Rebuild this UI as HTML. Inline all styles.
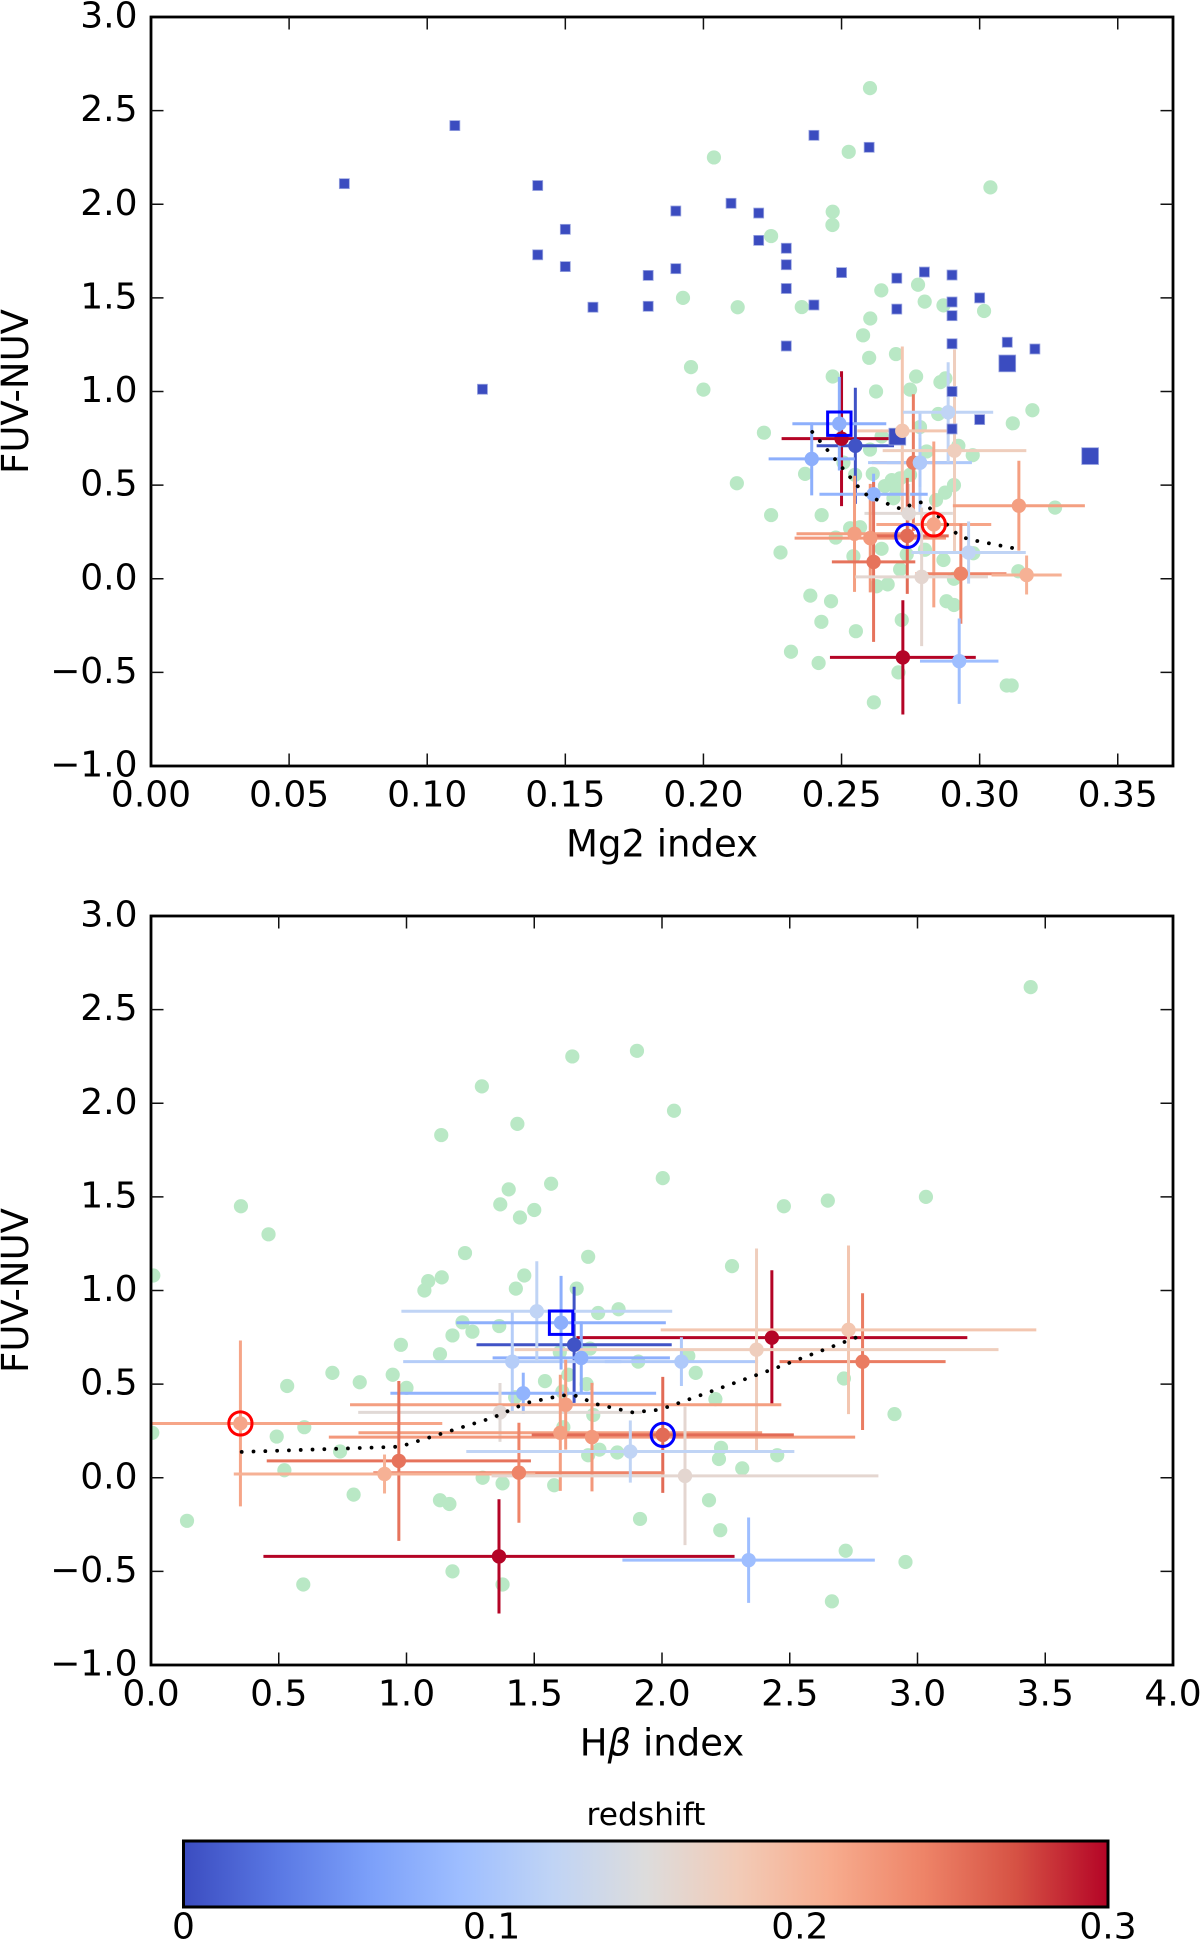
<!DOCTYPE html>
<html>
<head>
<meta charset="utf-8">
<title>FUV-NUV versus Mg2 and H-beta index</title>
<style>
html,body{margin:0;padding:0;background:#fff;width:1200px;height:1941px;overflow:hidden}
svg{display:block}
text{font-family:"DejaVu Sans","Liberation Sans",sans-serif;fill:#000}
</style>
</head>
<body>
<svg id="figure" xmlns="http://www.w3.org/2000/svg" width="1200" height="1941" viewBox="0 0 1200 1941">
  <defs>
    <clipPath id="clip-top"><rect x="151" y="17" width="1022" height="749"></rect></clipPath>
    <clipPath id="clip-bottom"><rect x="151" y="916" width="1022" height="749"></rect></clipPath>
    <linearGradient id="coolwarm" x1="0" x2="1" y1="0" y2="0"></linearGradient>
  </defs>
  <g id="panel-mg2"></g>
  <g id="panel-hb"></g>
  <g id="colorbar"></g>
</svg>
<script>
// Axis ticks
const fuvTicks = [-1, -0.5, 0, 0.5, 1, 1.5, 2, 2.5, 3];
const fuvTickLabels = ["\u22121.0", "\u22120.5", "0.0", "0.5", "1.0", "1.5", "2.0", "2.5", "3.0"];
const mg2Ticks = [0, 0.05, 0.1, 0.15, 0.2, 0.25, 0.3, 0.35];
const mg2TickLabels = ["0.00", "0.05", "0.10", "0.15", "0.20", "0.25", "0.30", "0.35"];
const hbTicks = [0, 0.5, 1, 1.5, 2, 2.5, 3, 3.5, 4];
const hbTickLabels = ["0.0", "0.5", "1.0", "1.5", "2.0", "2.5", "3.0", "3.5", "4.0"];
const redshiftTicks = [0, 0.1, 0.2, 0.3];
const redshiftTickLabels = ["0", "0.1", "0.2", "0.3"];
const coolwarmStops = ["#3b4cc0", "#5977e3", "#7b9ff9", "#9ebeff", "#c0d4f5", "#dddcdc", "#f2cbb7", "#f7ac8e", "#ee8468", "#d65244", "#b40426"];

// Green background sample, Mg2 panel
const greenMg2 = [.2603,.2526,.3039,.2468,.2467,.2644,.2777,.2801,.2869,.3016,.2356,.2604,.2578,.26,.2697,.2468,.277,.2748,.2858,.2876,.2625,.2038,.2245,.1926,.2124,.1955,.2,.3191,.312,.2219,.285,.2784,.2645,.2603,.2923,.2975,.2808,.2507,.2368,.2121,.2549,.2613,.2657,.2682,.2712,.2748,.27,.2688,.2907,.2875,.2842,.3273,.2245,.2428,.2531,.2567,.2479,.2279,.2543,.2645,.2736,.2802,.2869,.2977,.2712,.314,.2907,.2627,.2667,.2387,.2462,.288,.2907,.2427,.2718,.2552,.2317,.2417,.2706,.3098,.3116,.2617];
const greenMg2Fuv = [2.62,2.28,2.09,1.96,1.889,1.54,1.57,1.48,1.46,1.43,1.451,1.39,1.30,1.18,1.20,1.08,1.08,1.01,1.05,1.07,1.0,2.25,1.83,1.50,1.45,1.13,1.01,.90,.83,.78,.88,.81,.76,.69,.71,.66,.68,.62,.56,.51,.555,.56,.495,.527,.536,.555,.474,.43,.50,.46,.42,.38,.34,.34,.27,.275,.22,.14,.12,.16,.13,.155,.10,.136,.05,.04,0,-.04,-.03,-.09,-.12,-.12,-.14,-.23,-.22,-.28,-.39,-.45,-.5,-.57,-.57,-.66];

// Green background sample, H-beta panel
const greenHb = [3.443,1.902,2.047,2.003,2.477,2.649,3.033,1.649,1.295,1.434,1.136,1.566,1.40,1.367,1.50,.352,1.444,.46,1.229,1.711,.009,1.138,1.085,1.07,1.461,1.428,1.666,1.75,1.83,1.219,1.363,1.18,1.258,.978,1.131,.71,.817,.533,.946,1.0,1.542,1.60,1.718,1.633,1.705,1.425,1.61,1.731,1.614,.60,.005,.492,.74,1.755,1.711,1.825,.522,1.298,1.376,1.578,.793,1.131,1.168,.141,1.18,1.376,.596,2.274,1.907,2.103,2.132,2.712,2.209,2.91,2.231,2.223,2.451,2.314,2.184,1.914,2.228,2.719,2.953,2.665];
const greenHbFuv = [2.62,2.28,1.96,1.60,1.45,1.48,1.50,2.25,2.09,1.89,1.83,1.57,1.54,1.46,1.43,1.45,1.39,1.30,1.20,1.18,1.08,1.07,1.05,1.0,1.08,1.01,1.01,.88,.90,.83,.81,.76,.78,.71,.66,.56,.51,.49,.55,.48,.516,.67,.69,.55,.50,.43,.46,.335,.27,.27,.24,.22,.14,.15,.12,.135,.04,0,-.03,-.04,-.09,-.12,-.14,-.23,-.5,-.57,-.57,1.13,.62,.65,.56,.53,.42,.34,.16,.10,.12,.05,-.12,-.22,-.28,-.39,-.45,-.66];

// Blue squares, Mg2 panel
const squareMg2 = [.07,.11,.12,.14,.14,.15,.15,.16,.18,.18,.19,.19,.21,.22,.22,.23,.23,.23,.23,.24,.24,.25,.26,.27,.27,.28,.29,.29,.29,.29,.29,.29,.30,.30,.31,.32];
const squareFuv = [2.11,2.42,1.012,2.10,1.73,1.866,1.667,1.45,1.62,1.455,1.964,1.656,2.005,1.953,1.807,1.765,1.677,1.55,1.243,2.368,1.462,1.635,2.304,1.605,1.44,1.638,1.622,1.478,1.405,1.255,1.0,.8,1.5,.85,1.263,1.227];
const bigSquareMg2 = [.31,.34,.2702];
const bigSquareFuv = [1.15,.655,.759];

// Spectroscopic sample with error bars
const specName = ["b","c","d","eo","e1","e2","g","h","i","j","k","l","m","n","o","p","q","r","s","t","u","v","w","a"];
const specRedshift = [.3,.005,.075,.245,.11,.105,.185,.12,.175,.08,.155,.215,.22,.22,.225,.255,.25,.24,.205,.16,.12,.3,.09,.075];
const specMg2 = [.25,.255,.2392,.276,.2784,.2784,.272,.2886,.2909,.2616,.2743,.2834,.3142,.2547,.2604,.2738,.2616,.2932,.317,.279,.296,.2722,.2926,.2492];
const specMg2Err = [.0217,.014,.0156,.015,.012,.0188,.0163,.0163,.026,.0196,.016,.0208,.0239,.021,.0274,.015,.0151,.0165,.0127,.024,.0207,.0264,.0142,.017];
const specHb = [2.43,1.656,1.684,2.785,1.414,2.076,2.73,1.51,2.37,1.457,1.366,.35,1.623,1.602,1.726,2.003,.97,1.44,.914,2.09,1.876,1.362,2.339,1.605];
const specHbErr = [.765,.382,.347,.325,.427,.3,.735,.53,.947,.52,.555,.79,.844,.79,1.03,.513,.517,.57,.59,.757,.642,.922,.494,.41];
const specFuv = [.748,.71,.64,.62,.62,.62,.79,.889,.684,.451,.349,.29,.39,.24,.217,.229,.09,.027,.02,.01,.14,-.42,-.44,.828];
const specFuvErr = [.36,.31,.195,.365,.27,.13,.45,.267,.54,.11,.157,.443,.24,.31,.29,.31,.427,.267,.104,.37,.166,.305,.228,.25];

// Highlighted objects
const boxedMg2 = [.2492];
const boxedHb = [1.605];
const boxedFuv = [.828];
const blueRingMg2 = [.2738];
const blueRingHb = [2.003];
const blueRingFuv = [.229];
const redRingMg2 = [.2834];
const redRingHb = [.35];
const redRingFuv = [.29];

// Dotted running mean
const trendMg2 = [.2394,.2565,.2597,.2718,.2758,.2796,.2924,.2963,.3137];
const trendMg2Fuv = [.784,.483,.44,.371,.40,.41,.23,.21,.159];
const trendHb = [.355,.974,1.34,1.427,1.47,1.611,1.658,1.747,1.885,1.981,2.027,2.43,2.785];
const trendHbFuv = [.138,.166,.322,.374,.40,.44,.44,.392,.349,.362,.38,.578,.762];

const NS = "http://www.w3.org/2000/svg";
function mk(tag, attrs, parent) {
  const el = document.createElementNS(NS, tag);
  for (const k in attrs) el.setAttribute(k, attrs[k]);
  parent.appendChild(el);
  return el;
}
function coolwarm(t) {
  const f = Math.max(0, Math.min(1, t)) * (coolwarmStops.length - 1);
  const i = Math.min(Math.floor(f), coolwarmStops.length - 2);
  const u = f - i;
  const a = coolwarmStops[i], b = coolwarmStops[i + 1];
  const ch = function (s, p) { return parseInt(s.substr(p, 2), 16); };
  const r = Math.round(ch(a, 1) + (ch(b, 1) - ch(a, 1)) * u);
  const g = Math.round(ch(a, 3) + (ch(b, 3) - ch(a, 3)) * u);
  const bl = Math.round(ch(a, 5) + (ch(b, 5) - ch(a, 5)) * u);
  return "rgb(" + r + "," + g + "," + bl + ")";
}

function drawPanel(p) {
  const root = document.getElementById(p.id);
  const L = 151, R = 1173, T = p.top, B = p.top + 749;
  const sx = function (v) { return L + (v - p.xMin) / (p.xMax - p.xMin) * (R - L); };
  const sy = function (v) { return T + (3 - v) / 4 * (B - T); };

  const plot = mk("g", { "clip-path": "url(#" + p.clip + ")" }, root);
  
  

  p.greenX.forEach(function (v, i) {
    const c = mk("circle", { cx: sx(v), cy: sy(p.greenY[i]), r: 7.1, fill: "#b9e8c5" }, plot);
    
    
  });

  p.specX.forEach(function (v, i) {
    const col = coolwarm(specRedshift[i] / 0.3);
    const h = mk("line", { x1: sx(v - p.specXErr[i]), x2: sx(v + p.specXErr[i]), y1: sy(specFuv[i]), y2: sy(specFuv[i]), "stroke-width": 3, stroke: col }, plot);
    
    
    const w = mk("line", { x1: sx(v), x2: sx(v), y1: sy(specFuv[i] - specFuvErr[i]), y2: sy(specFuv[i] + specFuvErr[i]), "stroke-width": 3, stroke: col }, plot);
    
    
  });

  if (p.squaresX) {
    p.squaresX.forEach(function (v, i) {
      const s = mk("rect", { x: sx(v) - 5, y: sy(p.squaresY[i]) - 5, width: 10, height: 10, fill: "#3b4cc0", stroke: "#9aa5e0", "stroke-width": 0.8 }, plot);
      
      
    });
    p.bigSquaresX.forEach(function (v, i) {
      const s = mk("rect", { x: sx(v) - 8.4, y: sy(p.bigSquaresY[i]) - 8.4, width: 16.8, height: 16.8, fill: "#3b4cc0", stroke: "#9aa5e0", "stroke-width": 0.8 }, plot);
      
      
    });
  }

  p.specX.forEach(function (v, i) {
    const d = mk("circle", { cx: sx(v), cy: sy(specFuv[i]), r: 7.2, fill: coolwarm(specRedshift[i] / 0.3) }, plot);
    
    
  });

  const pts = p.trendX.map(function (v, i) { return sx(v) + "," + sy(p.trendY[i]); }).join(" ");
  const trend = mk("polyline", { points: pts, fill: "none", stroke: "#000", "stroke-width": 3.8, "stroke-linecap": "round", "stroke-dasharray": "0.01 11.8" }, plot);
  
  

  p.boxX.forEach(function (v, i) {
    const b = mk("rect", { x: sx(v) - 11.7, y: sy(boxedFuv[i]) - 11.7, width: 23.4, height: 23.4, fill: "none", stroke: "#0000ff", "stroke-width": 3 }, plot);
    
    
  });
  p.blueX.forEach(function (v, i) {
    const c = mk("circle", { cx: sx(v), cy: sy(blueRingFuv[i]), r: 11.6, fill: "none", stroke: "#0000ff", "stroke-width": 3 }, plot);
    
    
  });
  p.redX.forEach(function (v, i) {
    const c = mk("circle", { cx: sx(v), cy: sy(redRingFuv[i]), r: 11.6, fill: "none", stroke: "#ff0000", "stroke-width": 3 }, plot);
    
    
  });

  const frame = mk("rect", { x: L, y: T, width: R - L, height: B - T, fill: "none", stroke: "#000", "stroke-width": 2.8 }, root);
  
  

  const tickLen = 12.5;
  p.xTicks.forEach(function (v, i) {
    const x = sx(v);
    if (v > p.xMin && v < p.xMax) {
      const t1 = mk("line", { x1: x, x2: x, y1: B, y2: B - tickLen, stroke: "#111", "stroke-width": 1.5 }, root);
      
      
      const t2 = mk("line", { x1: x, x2: x, y1: T, y2: T + tickLen, stroke: "#111", "stroke-width": 1.5 }, root);
      
      
    }
    const lab = mk("text", { x: x, y: B + 40.7, "font-size": 36, "text-anchor": "middle" }, root);
    lab.textContent = p.xLabels[i];
    
    
  });
  fuvTicks.forEach(function (v, i) {
    const y = sy(v);
    if (v > -1 && v < 3) {
      const t1 = mk("line", { x1: L, x2: L + tickLen, y1: y, y2: y, stroke: "#111", "stroke-width": 1.5 }, root);
      
      
      const t2 = mk("line", { x1: R, x2: R - tickLen, y1: y, y2: y, stroke: "#111", "stroke-width": 1.5 }, root);
      
      
    }
    const lab = mk("text", { x: 137.5, y: y + 10.6, "font-size": 36, "text-anchor": "end" }, root);
    lab.textContent = fuvTickLabels[i];
    
    
  });

  const xTitle = mk("text", { x: (L + R) / 2, y: B + 90.7, "font-size": 37, "text-anchor": "middle" }, root);
  
  
  if (p.beta) {
    const a = mk("tspan", {}, xTitle);
    a.textContent = "H";
    const b = mk("tspan", { "font-style": "italic" }, xTitle);
    b.textContent = "\u03B2";
    const c = mk("tspan", {}, xTitle);
    c.textContent = " index";
  } else {
    xTitle.textContent = p.xTitle;
  }
  const yc = (T + B) / 2;
  const yTitle = mk("text", { x: 28, y: yc, "font-size": 37, "text-anchor": "middle", transform: "rotate(-90 28 " + yc + ")" }, root);
  yTitle.textContent = "FUV-NUV";
  
  
}

drawPanel({
  id: "panel-mg2", clip: "clip-top", top: 17, xMin: 0, xMax: 0.37,
  xTicks: mg2Ticks, xLabels: mg2TickLabels, xTitle: "Mg2 index",
  greenX: greenMg2, greenY: greenMg2Fuv,
  squaresX: squareMg2, squaresY: squareFuv, bigSquaresX: bigSquareMg2, bigSquaresY: bigSquareFuv,
  specX: specMg2, specXErr: specMg2Err,
  trendX: trendMg2, trendY: trendMg2Fuv,
  boxX: boxedMg2, blueX: blueRingMg2, redX: redRingMg2
});
drawPanel({
  id: "panel-hb", clip: "clip-bottom", top: 916, xMin: 0, xMax: 4,
  xTicks: hbTicks, xLabels: hbTickLabels, beta: true,
  greenX: greenHb, greenY: greenHbFuv,
  specX: specHb, specXErr: specHbErr,
  trendX: trendHb, trendY: trendHbFuv,
  boxX: boxedHb, blueX: blueRingHb, redX: redRingHb
});

(function () {
  const grad = document.getElementById("coolwarm");
  coolwarmStops.forEach(function (c, i) {
    const st = mk("stop", { offset: i / (coolwarmStops.length - 1), "stop-color": c }, grad);
    
    
  });
  const root = document.getElementById("colorbar");
  const L = 183.5, R = 1108, T = 1841, B = 1907;
  const bar = mk("rect", { x: L, y: T, width: R - L, height: B - T, fill: "url(#coolwarm)", stroke: "#000", "stroke-width": 3 }, root);
  
  
  const title = mk("text", { x: 646, y: 1825, "font-size": 31.3, "text-anchor": "middle" }, root);
  title.textContent = "redshift";
  
  
  redshiftTicks.forEach(function (v, i) {
    const lab = mk("text", { x: L + v / 0.3 * (R - L), y: 1938.5, "font-size": 36, "text-anchor": "middle" }, root);
    lab.textContent = redshiftTickLabels[i];
    
    
  });
})();
</script>
</body>
</html>
